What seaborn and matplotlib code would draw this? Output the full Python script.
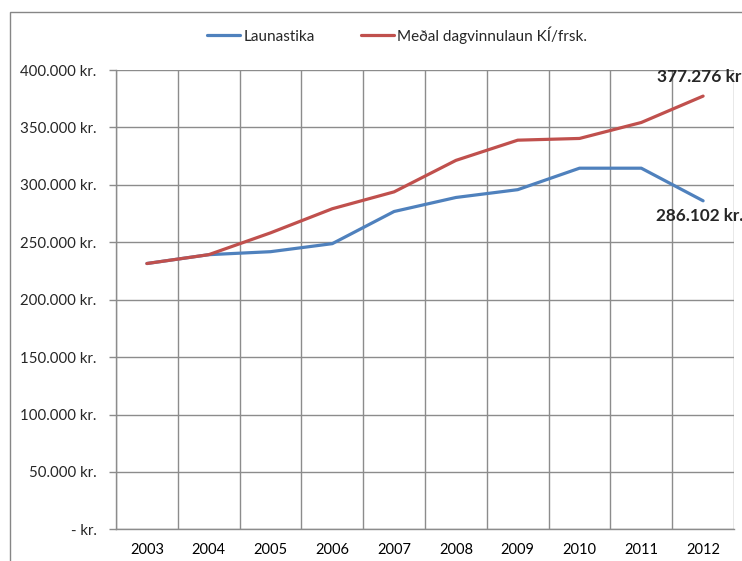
import matplotlib
matplotlib.use("Agg")
import matplotlib.pyplot as plt
import matplotlib.patches as mpatches
from matplotlib.ticker import FixedLocator, FuncFormatter
import seaborn as sns
import pandas as pd

years = ["2003", "2004", "2005", "2006", "2007", "2008", "2009", "2010", "2011", "2012"]
launastika = [231500, 239200, 241800, 248800, 276800, 289000, 295800, 314500, 314500, 286102]
medal = [231500, 239200, 258200, 279200, 293900, 321300, 338900, 340400, 354300, 377276]
series_names = ["Launastika", "Meðal dagvinnulaun KÍ/frsk."]
yticks = [0, 50000, 100000, 150000, 200000, 250000, 300000, 350000, 400000]

sns.set_style("white")
plt.rcParams["font.family"] = ["Lato", "DejaVu Sans"]

df = pd.DataFrame({
    "year": years * 2,
    "value": launastika + medal,
    "series": [series_names[0]] * len(years) + [series_names[1]] * len(years),
})
df["x"] = list(range(len(years))) * 2

W, H = 742, 561
fig = plt.figure(figsize=(W / 100, H / 100), dpi=100)
ax = fig.add_axes([116 / W, 1 - 529.4 / H, (734 - 116) / W, (529.4 - 70) / H])

palette = {series_names[0]: "#4F81BD", series_names[1]: "#C0504D"}
sns.lineplot(data=df, x="x", y="value", hue="series", palette=palette,
             linewidth=2.3, ax=ax, legend=False, zorder=3)

ax.set_xlim(-0.5, len(years) - 0.5)
ax.set_ylim(0, 400000)

def kr(v, pos=None):
    if v == 0:
        return "- kr."
    return f"{v:,.0f}".replace(",", ".") + " kr."

ax.yaxis.set_major_locator(FixedLocator(yticks))
ax.yaxis.set_major_formatter(FuncFormatter(kr))
ax.set_xticks(range(len(years)))
ax.set_xticklabels(years)
ax.set_xticks([i - 0.5 for i in range(len(years) + 1)], minor=True)

grid_c = "#8C8C8C"
ax.grid(False)
ax.yaxis.grid(True, which="major", color=grid_c, linewidth=1)
ax.xaxis.grid(True, which="minor", color=grid_c, linewidth=1)
ax.tick_params(axis="x", which="major", length=0, pad=10, labelsize=10.5, labelcolor="#000000")
ax.tick_params(axis="x", which="minor", length=5, color=grid_c, width=1, direction="out")
ax.tick_params(axis="y", which="major", length=5, color=grid_c, width=1, pad=9, labelsize=10.8,
               left=True, direction="out")
for side in ["left", "bottom"]:
    ax.spines[side].set_color(grid_c)
    ax.spines[side].set_linewidth(1)
for side in ["top", "right"]:
    ax.spines[side].set_visible(False)
ax.set_xlabel("")
ax.set_ylabel("")

# data labels on last points
last = len(years) - 1
ax.annotate(kr(medal[last]), xy=(last, medal[last]), xytext=(-46, 19),
            textcoords="offset pixels", fontsize=12.5, fontweight="bold",
            ha="left", va="center", annotation_clip=False, clip_on=False)
ax.annotate(kr(launastika[last]), xy=(last, launastika[last]), xytext=(-47, -15),
            textcoords="offset pixels", fontsize=12.3, fontweight="bold",
            ha="left", va="center", annotation_clip=False, clip_on=False)

# legend
handles = [plt.Line2D([0], [0], color=palette[n], linewidth=2.3) for n in series_names]
fig.legend(handles, series_names, loc="center", bbox_to_anchor=(397 / W, 1 - 35 / H),
           ncol=2, frameon=False, fontsize=11, handlelength=2.2, handletextpad=0.2,
           columnspacing=3.0)

# outer chart frame
frame = mpatches.Rectangle((10 / W, -0.2), 2, 0.2 + (1 - 12 / H), transform=fig.transFigure,
                           fill=False, edgecolor="#868686", linewidth=1)
fig.patches.append(frame)

fig.savefig("out.png", dpi=100)
